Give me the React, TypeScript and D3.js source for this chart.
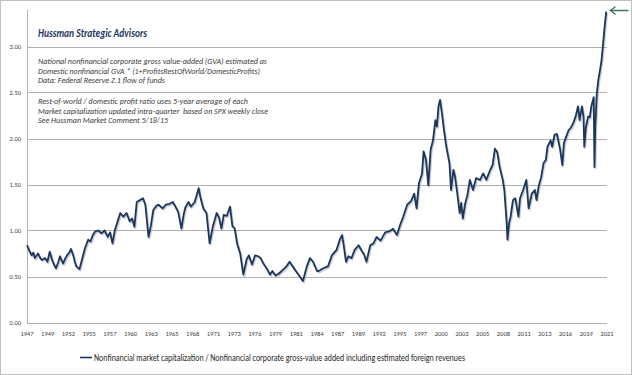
import React from "react";
import * as d3 from "d3";

const years: number[] = [
  1947.0, 1947.3, 1947.6, 1947.8, 1948.0, 1948.4, 1948.7, 1948.9, 1949.3, 1949.6, 1949.9,
  1950.2, 1950.5, 1950.7, 1951.0, 1951.2, 1951.6, 1951.9, 1952.1, 1952.4, 1952.6, 1952.9,
  1953.1, 1953.3, 1953.7, 1954.0, 1954.4, 1954.8, 1955.1, 1955.4, 1955.7, 1956.1, 1956.5,
  1956.9, 1957.3, 1957.6, 1957.9, 1958.2, 1958.6, 1958.9, 1959.3, 1959.7, 1960.1, 1960.4,
  1960.7, 1961.0, 1961.4, 1961.8, 1962.1, 1962.5, 1962.8, 1963.1, 1963.5, 1963.8, 1964.3,
  1964.7, 1965.2, 1965.6, 1966.0, 1966.3, 1966.7, 1967.0, 1967.2, 1967.6, 1967.9, 1968.4,
  1968.9, 1969.1, 1969.5, 1969.9, 1970.3, 1970.7, 1971.2, 1971.5, 1971.8, 1972.1, 1972.5,
  1972.9, 1973.2, 1973.5, 1973.8, 1974.2, 1974.6, 1975.0, 1975.3, 1975.7, 1976.1, 1976.5,
  1976.8, 1977.1, 1977.4, 1977.7, 1978.0, 1978.3, 1978.7, 1979.1, 1979.5, 1980.1, 1980.5,
  1980.9, 1981.3, 1981.8, 1982.2, 1982.7, 1983.1, 1983.5, 1984.0, 1984.2, 1984.8, 1985.4,
  1985.9, 1986.5, 1986.9, 1987.2, 1987.4, 1987.7, 1988.0, 1988.4, 1988.8, 1989.3, 1989.7,
  1990.0, 1990.3, 1990.8, 1991.2, 1991.6, 1992.1, 1992.7, 1993.2, 1993.7, 1994.2, 1994.6,
  1995.0, 1995.5, 1996.0, 1996.4, 1996.7, 1997.0, 1997.4, 1997.6, 1997.9, 1998.2, 1998.5,
  1998.8, 1999.1, 1999.3, 1999.5, 1999.7, 1999.9, 2000.2, 2000.5, 2000.9, 2001.1, 2001.4,
  2001.6, 2001.9, 2002.2, 2002.4, 2002.6, 2002.9, 2003.2, 2003.5, 2003.9, 2004.3, 2004.8,
  2005.2, 2005.6, 2006.1, 2006.4, 2006.7, 2007.0, 2007.3, 2007.7, 2007.9, 2008.2, 2008.3,
  2008.5, 2008.7, 2009.0, 2009.3, 2009.7, 2009.9, 2010.3, 2010.7, 2011.0, 2011.4, 2011.8,
  2012.0, 2012.3, 2012.6, 2012.9, 2013.2, 2013.4, 2013.8, 2014.0, 2014.3, 2014.6, 2014.8,
  2015.0, 2015.3, 2015.5, 2015.8, 2016.1, 2016.4, 2016.7, 2017.0, 2017.3, 2017.5, 2017.8,
  2018.0, 2018.1, 2018.3, 2018.6, 2018.8, 2019.0, 2019.3, 2019.4, 2019.5, 2019.7, 2019.9,
  2020.1, 2020.3, 2020.5, 2020.7, 2020.9,
];

const ratio: number[] = [
  0.84, 0.78, 0.73, 0.76, 0.70, 0.75, 0.70, 0.68, 0.70, 0.66, 0.77,
  0.68, 0.62, 0.59, 0.66, 0.72, 0.64, 0.70, 0.73, 0.76, 0.80, 0.73,
  0.66, 0.61, 0.58, 0.68, 0.81, 0.90, 0.88, 0.95, 0.99, 1.00, 0.97,
  1.00, 0.93, 0.98, 0.86, 1.00, 1.11, 1.19, 1.15, 1.19, 1.10, 1.13,
  1.04, 1.31, 1.33, 1.35, 1.28, 0.93, 1.05, 1.22, 1.27, 1.28, 1.24,
  1.28, 1.29, 1.31, 1.25, 1.20, 1.02, 1.18, 1.25, 1.31, 1.26, 1.31,
  1.46, 1.37, 1.24, 1.19, 0.86, 1.04, 1.19, 1.14, 1.02, 1.17, 1.16,
  1.26, 1.05, 1.02, 0.86, 0.75, 0.52, 0.68, 0.73, 0.63, 0.73, 0.72,
  0.70, 0.65, 0.61, 0.57, 0.52, 0.56, 0.51, 0.53, 0.56, 0.61, 0.66,
  0.61, 0.56, 0.50, 0.45, 0.61, 0.70, 0.66, 0.56, 0.56, 0.59, 0.61,
  0.73, 0.79, 0.90, 0.95, 0.84, 0.66, 0.72, 0.70, 0.79, 0.84, 0.78,
  0.74, 0.66, 0.84, 0.86, 0.93, 0.89, 0.98, 0.99, 1.02, 0.95, 1.06,
  1.15, 1.28, 1.32, 1.40, 1.24, 1.51, 1.62, 1.86, 1.77, 1.49, 1.88,
  1.98, 2.20, 2.13, 2.35, 2.42, 2.30, 2.09, 1.91, 1.73, 1.44, 1.66,
  1.59, 1.40, 1.19, 1.30, 1.13, 1.29, 1.39, 1.55, 1.44, 1.57, 1.55,
  1.62, 1.55, 1.66, 1.71, 1.89, 1.85, 1.69, 1.55, 1.44, 1.08, 0.90,
  1.08, 1.15, 1.33, 1.35, 1.15, 1.35, 1.44, 1.55, 1.24, 1.40, 1.44,
  1.33, 1.49, 1.58, 1.73, 1.77, 1.91, 1.98, 1.91, 2.04, 2.05, 1.97,
  1.89, 1.71, 1.95, 2.02, 2.09, 2.12, 2.17, 2.24, 2.35, 2.20, 2.35,
  2.24, 1.91, 2.12, 2.24, 2.23, 2.35, 2.45, 1.69, 2.12, 2.49, 2.64,
  2.74, 2.85, 3.03, 3.22, 3.38,
];

const xTickLabels: string[] = [
  "1947", "1949", "1952", "1955", "1957", "1960", "1963", "1965", "1968", "1971",
  "1973", "1976", "1979", "1981", "1984", "1987", "1989", "1992", "1995", "1997",
  "2000", "2003", "2005", "2008", "2011", "2013", "2016", "2019", "2021",
];

const yTicks: number[] = [0, 0.5, 1.0, 1.5, 2.0, 2.5, 3.0];

const titleText = "Hussman Strategic Advisors";
const noteLines: string[] = [
  "National nonfinancial corporate gross value-added (GVA) estimated as",
  "Domestic nonfinancial GVA * (1+ProfitsRestOfWorld/DomesticProfits)",
  "Data: Federal Reserve Z.1 flow of funds",
  "Rest-of-world / domestic profit ratio uses 5-year average of each",
  "Market capitalization updated intra-quarter  based on SPX weekly close",
  "See Hussman Market Comment 5/18/15",
];
const legendText =
  "Nonfinancial market capitalization / Nonfinancial corporate gross-value added including estimated foreign revenues";

const W = 632;
const H = 375;
const FONT = "Calibri, Carlito, Lato, 'Open Sans', sans-serif";

export default function App() {
  const left = 27;
  const right = 607;
  const top = 9.7;
  const bottom = 322.5;

  const x = d3.scaleLinear().domain([1947, 2021]).range([left, right]);
  const y = d3.scaleLinear().domain([0, 3.4]).range([bottom, top]);
  const xLab = d3.scalePoint<string>().domain(xTickLabels).range([left, right]);

  const data = years.map((yr, i) => ({ yr, v: ratio[i] }));
  const line = d3
    .line<{ yr: number; v: number }>()
    .x((d) => x(d.yr))
    .y((d) => y(d.v));
  const path = line(data) || "";

  const noteWidths = [229, 222, 127, 210, 230, 130];
  const noteY = [64, 73.7, 83.4, 104, 113.7, 123.4];

  return (
    <div style={{ position: "absolute", left: 0, top: 0 }}>
      <svg width={W} height={H} style={{ display: "block", background: "#fff" }}>
        <rect x={0.5} y={0.5} width={W - 1} height={H - 1} fill="#fff" stroke="#c0c0c0" strokeWidth={1} />
        {yTicks.map((t) => (
          <line key={t} x1={left} x2={right} y1={Math.round(y(t)) + 0.5} y2={Math.round(y(t)) + 0.5} stroke="#b0b0b0" strokeWidth={1} />
        ))}
        <line x1={left + 0.5} x2={left + 0.5} y1={top} y2={bottom + 0.5} stroke="#b0b0b0" strokeWidth={1} />
        {yTicks.map((t) => (
          <text key={"yl" + t} x={21} y={y(t) + 2.3} fontSize={6.5} fill="#404040" textAnchor="end" fontFamily={FONT}>
            {t.toFixed(2)}
          </text>
        ))}
        {xTickLabels.map((l) => (
          <text key={"xl" + l} x={xLab(l)} y={335.5} fontSize={6.5} fill="#404040" textAnchor="middle" fontFamily={FONT}>
            {l}
          </text>
        ))}
        <path d={path} fill="none" stroke="#9aa3ad" strokeOpacity={0.55} strokeWidth={2} transform="translate(1,1.3)" strokeLinejoin="round" />
        <path d={path} fill="none" stroke="#1c355a" strokeWidth={1.8} strokeLinejoin="round" />
        <text x={38} y={36.5} fontSize={11} fontWeight="bold" fontStyle="italic" fill="#1f3864" fontFamily={FONT} textLength={109} lengthAdjust="spacingAndGlyphs">
          {titleText}
        </text>
        {noteLines.map((s, i) => (
          <text key={"n" + i} x={38} y={noteY[i]} fontSize={8.3} fontStyle="italic" fill="#404040" fontFamily={FONT} textLength={noteWidths[i]} lengthAdjust="spacingAndGlyphs" style={{ whiteSpace: "pre" }}>
            {s}
          </text>
        ))}
        <g stroke="#3f7466" strokeWidth={1.5} fill="none" strokeLinecap="round" strokeLinejoin="round">
          <line x1={610.5} x2={628} y1={10.5} y2={10.5} />
          <polyline points="615,7 610.5,10.5 615,14" />
        </g>
        <line x1={80} x2={92} y1={357.5} y2={357.5} stroke="#1c355a" strokeWidth={1.6} />
        <text x={94} y={361} fontSize={10} fill="#1f1f1f" fontFamily={FONT} textLength={371} lengthAdjust="spacingAndGlyphs">
          {legendText}
        </text>
      </svg>
    </div>
  );
}
